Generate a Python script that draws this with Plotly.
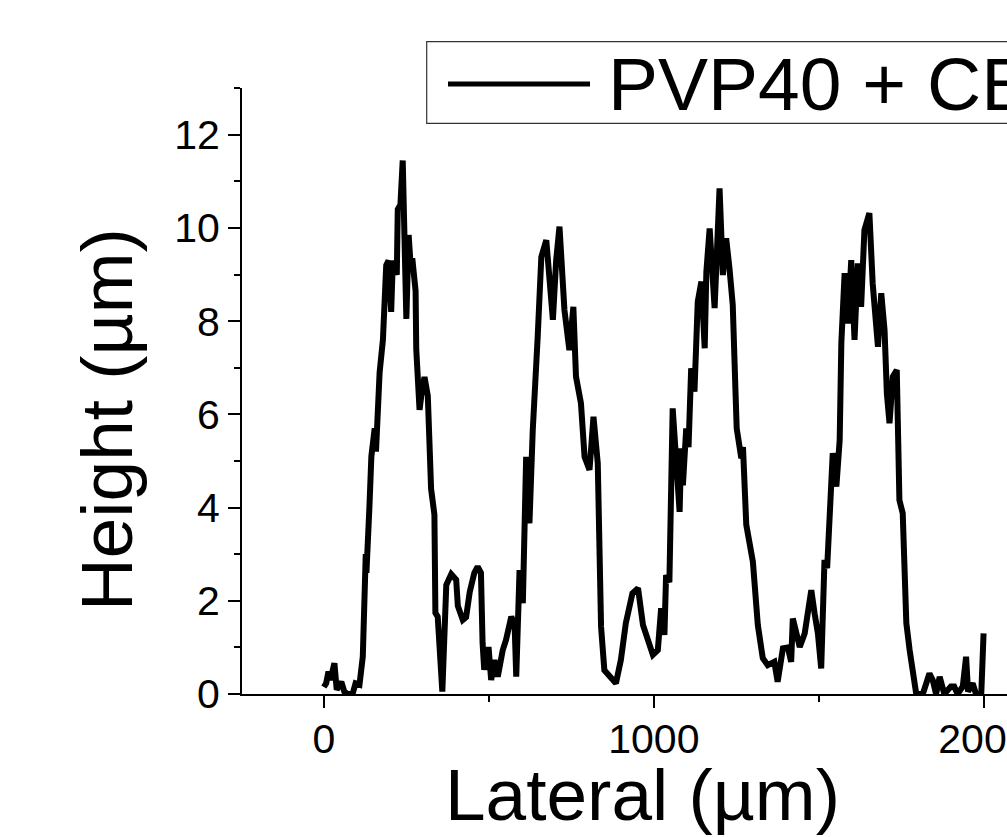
import plotly.graph_objects as go

# ---- data ----
lateral = [0, 7, 14, 20, 32, 39, 53, 62, 72, 87, 96, 108, 118, 124, 127, 129, 138, 144, 154, 158,
           169, 179, 189, 196, 204, 209, 215, 221, 224, 232, 239, 245, 250, 257, 262, 268, 278, 280,
           290, 297, 305, 315, 325, 335, 338, 345, 359, 371, 386, 401, 406, 421, 431, 442, 456, 466,
           476, 481, 486, 499, 507, 517, 527, 542, 552, 568, 578, 583, 593, 603, 613, 623, 633, 648,
           659, 674, 684, 694, 704, 714, 729, 744, 756, 764, 779, 790, 805, 817, 830, 840, 850, 865,
           885, 900, 915, 935, 952, 967, 982, 997, 1012, 1022, 1032, 1037, 1047, 1057, 1078, 1083,
           1088, 1098, 1105, 1113, 1123, 1133, 1144, 1154, 1159, 1169, 1184, 1191, 1199, 1209, 1219,
           1229, 1239, 1247, 1251, 1265, 1270, 1280, 1300, 1315, 1330, 1345, 1365, 1375, 1391, 1406,
           1416, 1421, 1431, 1442, 1457, 1467, 1477, 1487, 1497, 1507, 1517, 1525, 1534, 1542, 1553,
           1563, 1568, 1578, 1588, 1598, 1608, 1618, 1628, 1638, 1653, 1663, 1679, 1689, 1699, 1706,
           1714, 1724, 1736, 1744, 1754, 1765, 1775, 1785, 1795, 1815, 1835, 1845, 1855, 1866, 1880,
           1900, 1910, 1920, 1936, 1946, 1952, 1966, 1976, 1992, 1999]
height = [0.15, 0.23, 0.48, 0.3, 0.66, 0.09, 0.26, 0.05, 0.0, 0.0, 0.23, 0.2, 0.8, 2.4, 3.0, 2.6, 4.0, 5.1, 5.7, 5.2,
          6.9, 7.6, 9.2, 9.3, 8.2, 9.3, 9.1, 9.0, 10.4, 10.5, 11.45, 10.0, 8.05, 9.85, 9.3, 9.35, 8.65, 7.4,
          6.1, 6.5, 6.8, 6.4, 4.4, 3.85, 1.74, 1.66, 0.05, 2.34, 2.57, 2.45, 1.89, 1.59, 1.65, 2.19, 2.6, 2.73,
          2.6, 1.09, 0.52, 1.01, 0.3, 0.73, 0.37, 0.94, 1.16, 1.66, 1.5, 0.37, 2.66, 1.95, 5.09, 3.66, 5.66, 7.67,
          9.38, 9.74, 8.95, 8.03, 9.31, 10.03, 8.24, 7.38, 8.31, 6.81, 6.24, 5.09, 4.81, 5.95, 4.95, 1.44, 0.51, 0.37,
          0.23, 0.73, 1.52, 2.16, 2.27, 1.48, 1.12, 0.84, 0.94, 1.84, 1.27, 2.55, 2.4, 6.13, 3.91, 5.27,
          4.48, 5.7, 5.3, 6.99, 6.49, 8.42, 8.85, 7.42, 9.06, 9.99, 8.28, 9.71, 10.85, 8.99, 9.78,
          9.14, 8.35, 6.56, 5.7, 5.06, 5.3, 3.63, 2.84, 1.48, 0.77, 0.62, 0.69, 0.26, 0.98, 1.0,
          0.69, 1.62, 1.35, 1.01, 1.3, 1.73, 2.23, 1.73, 1.3, 0.55, 2.88, 2.7, 4.31, 5.17, 4.45,
          5.45, 7.53, 9.03, 7.95, 9.31, 7.6, 9.24, 8.31, 9.96, 10.32, 8.81, 7.45, 8.6, 7.81, 6.45,
          5.81, 6.81, 6.95, 4.16, 3.88, 1.52, 0.94, 0.44, 0.0, 0.0, 0.44, 0.3, 0.0, 0.37, 0.0,
          0.16, 0.16, 0.0, 0.16, 0.8, 0.05, 0.23, 0.0, 0.0, 1.3]

x_ticks = [0, 1000, 2000]
y_ticks = [0, 2, 4, 6, 8, 10, 12]
series_name = "PVP40 + CB"
x_title = "Lateral (µm)"
y_title = "Height (µm)"

FONT = "Liberation Sans, Arial, sans-serif"
W, H = 1007, 837
ML, MR, MT, MB = 242, 0, 88, 143
PW, PH = W - ML - MR, H - MT - MB


def px(xp):
    return (xp - ML) / PW


def py(yp):
    return (H - MB - yp) / PH


fig = go.Figure()
fig.add_trace(go.Scatter(x=lateral, y=height, mode="lines",
                         line=dict(color="black", width=6), name=series_name,
                         showlegend=False))

axis_common = dict(showline=True, linecolor="black", linewidth=2, ticks="outside",
                   ticklen=12, tickwidth=2, tickcolor="black", showgrid=False,
                   zeroline=False, automargin=False, ticklabeloverflow="allow",
                   tickfont=dict(family=FONT, size=41, color="black"))

fig.update_xaxes(range=[-248, 2070], tickvals=x_ticks, ticktext=[str(v) for v in x_ticks],
                 ticklabelstandoff=-4,
                 minor=dict(ticks="outside", ticklen=6, tickwidth=2, tickcolor="black", dtick=500, tick0=0),
                 **axis_common)
fig.update_yaxes(range=[0, 13.005], tickvals=y_ticks, ticktext=[str(v) for v in y_ticks],
                 minor=dict(ticks="outside", ticklen=6, tickwidth=2, tickcolor="black", dtick=1, tick0=0),
                 **axis_common)

# legend box (drawn manually, it runs off the right edge like in the reference)
fig.add_shape(type="rect", xref="paper", yref="paper",
              x0=px(426.7), x1=px(1200), y0=py(123.3), y1=py(41.7),
              line=dict(color="#333333", width=1.2), fillcolor="white", layer="above")
fig.add_shape(type="line", xref="paper", yref="paper",
              x0=px(448), x1=px(590), y0=py(84), y1=py(84),
              line=dict(color="black", width=5), layer="above")
fig.add_annotation(text=series_name, xref="paper", yref="paper", x=px(606), y=py(84),
                   xanchor="left", yanchor="middle", showarrow=False,
                   font=dict(family=FONT, size=75, color="black"))

# axis titles
fig.add_annotation(text=x_title, xref="paper", yref="paper", x=px(642), y=py(794),
                   xanchor="center", yanchor="middle", showarrow=False,
                   font=dict(family=FONT, size=73, color="black"))
fig.add_annotation(text=y_title, xref="paper", yref="paper", x=px(106), y=py(420),
                   xanchor="center", yanchor="middle", showarrow=False, textangle=-90,
                   font=dict(family=FONT, size=73, color="black"))

fig.update_layout(width=W, height=H, margin=dict(l=ML, r=MR, t=MT, b=MB, pad=0),
                  plot_bgcolor="white", paper_bgcolor="white", showlegend=False)

fig.write_html("out.html", config={"displayModeBar": False},
               post_script="document.body.style.margin='0';")
